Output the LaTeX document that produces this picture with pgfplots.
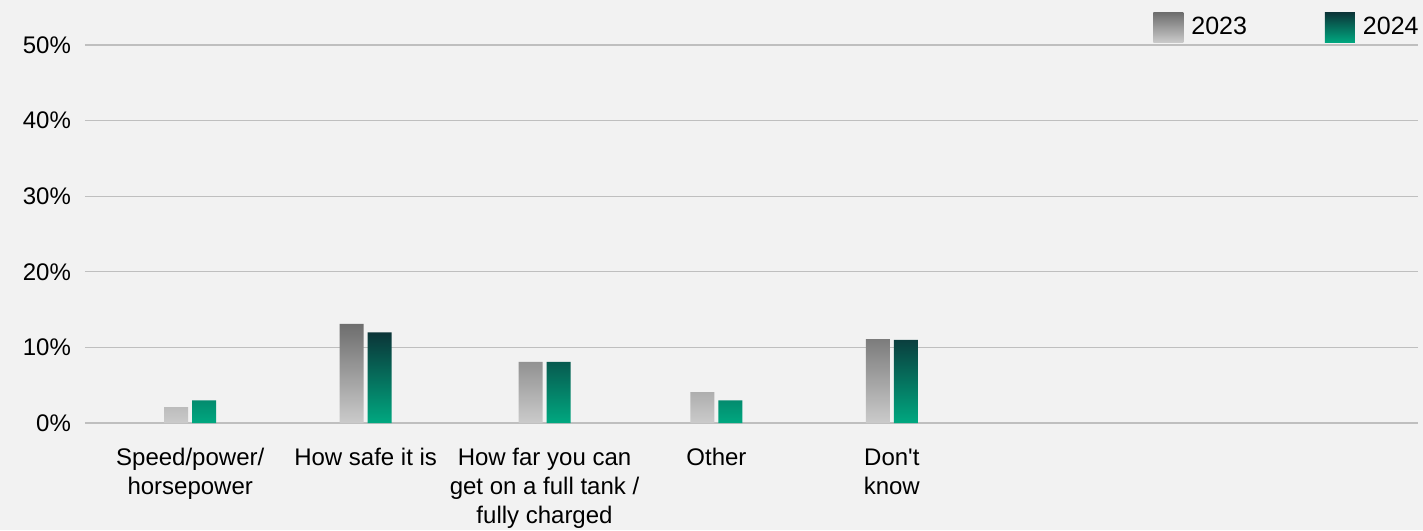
\documentclass[border=0pt]{standalone}
\usepackage{fontspec}
\setmainfont{Liberation Sans}
\usepackage{pgfplots}
\pgfplotsset{compat=1.18}
\definecolor{bg}{HTML}{F2F2F2}
\definecolor{gridc}{HTML}{BFBFBF}
\definecolor{gtop}{HTML}{6E6E6E}
\definecolor{gbot}{HTML}{CBCBCB}
\definecolor{ttop}{HTML}{0B3538}
\definecolor{tbot}{HTML}{00A880}
\begin{document}
\begin{tikzpicture}
\fill[bg] (-42.5pt,-53.5pt) rectangle (669pt,211.5pt);
\begin{axis}[
  at={(0pt,0pt)}, anchor=south west, scale only axis,
  width=666.5pt, height=189pt,
  xmin=-0.6, xmax=7, ymin=0, ymax=50,
  axis line style={draw=none}, tick style={draw=none},
  ymajorgrids, major grid style={gridc, line width=0.6pt},
  ytick={0,10,...,50},
  yticklabel={\pgfmathprintnumber{\tick}\%},
  yticklabel style={xshift=-3.5pt},
  xtick={0,1,2.02,3,4},
  xticklabels={{Speed/power/\\horsepower},{How safe it is},{How far you can\\get on a full tank /\\fully charged},{Other},{Don\textquotesingle t\\know}},
  xticklabel style={align=center, yshift=-5pt},
  tick label style={font=\fontsize{12}{14.5}\selectfont},
  /pgf/number format/assume math mode=true,
  ybar=2pt, bar width=12pt,
  legend style={draw=none, fill=none, at={(1,1)}, anchor=south east, xshift=5.5pt, yshift=-1pt,
    legend columns=2, font=\fontsize{12.5}{14.5}\selectfont,
    /tikz/every even column/.append style={column sep=37pt}},
  legend image code/.code={\path[#1,draw=none] (0pt,-7.5pt) rectangle (15pt,7.5pt); \path (15pt,0pt) -- (17pt,0pt);},
]
\addplot[draw=none, top color=gtop, bottom color=gbot] coordinates {(0,2.1) (1,13.1) (2.02,8.1) (3,4.1) (4,11.1)};
\addplot[draw=none, top color=ttop, bottom color=tbot] coordinates {(0,3) (1,12) (2.02,8.1) (3,3) (4,11)};
\legend{2023,2024}
\end{axis}
\pgfresetboundingbox
\path (-42.5pt,-53.5pt) rectangle (669pt,211.5pt);
\end{tikzpicture}
\end{document}
